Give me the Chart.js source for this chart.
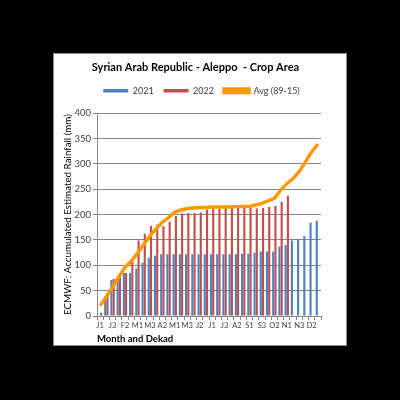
<!DOCTYPE html>
<html><head><meta charset="utf-8">
<script src="https://cdn.jsdelivr.net/npm/chart.js@4"></script>
<style>
html,body{margin:0;padding:0;background:#000;width:400px;height:400px;overflow:hidden}
#box{position:absolute;left:53px;top:53px;width:292px;height:291px;background:#fff;border:1px solid #898989}
canvas{display:block}
</style></head><body>
<div id="box"><canvas id="c" width="292" height="291"></canvas></div>
<script>
const categories = ["J1","J2","J3","F1","F2","F3","M1","M2","M3","A1","A2","A3","M1","M2","M3","J1","J2","J3","J1","J2","J3","A1","A2","A3","S1","S2","S3","O1","O2","O3","N1","N2","N3","D1","D2","D3"];
const rain2021 = [0,39,71,72,85,85,93,105,115,119,122,122,122,122,122,122,122,122,122,122,122,122,122,123,123,125,127,127,127,137,140,149,152,158,184,188];
const rain2022 = [6,45,73,85,85,108,149,162,178,180,177,186,197,202,203,203,204,210,212,212,213,213,213,214,214,212,213,215,217,225,237,null,null,null,null,null];
const avg8915 = [20,38,57,77,96,108,124,141,158,172,185,194,205,209,212,213,214,214,215,215,215,215,216,216,216,219,222,227,232,248,261,271,285,304,324,339];
const yTicks = [0,50,100,150,200,250,300,350,400];

const FONT = "Lato";
const tweak = {
  id:'tweak',
  beforeUpdate(chart){
    const lg = chart.legend;
    if (lg && !lg._patched){
      const f = lg.fit.bind(lg);
      lg.fit = function(){ f(); this.height += 8; };
      lg._patched = true;
    }
  },
  afterLayout(chart){
    const t = chart.titleBlock; if (t){ t.left += 6; t.right += 6; }
    const l = chart.legend; if (l){ l.left += 12; l.right += 12; }
  }
};
new Chart(document.getElementById('c'), {
  type: 'bar',
  data: {
    labels: categories,
    datasets: [
      {label:'2021', data: rain2021, backgroundColor:'#4F81BD', borderWidth:0, order:1, categoryPercentage:0.72, barPercentage:0.95},
      {label:'2022', data: rain2022, backgroundColor:'#C0504D', borderWidth:0, order:1, categoryPercentage:0.72, barPercentage:0.95},
      {type:'line', label:'Avg (89-15)', data: avg8915, borderColor:'#FF9900', backgroundColor:'#FF9900', borderWidth:3.5, pointRadius:0, tension:0, order:-1}
    ]
  },
  plugins:[tweak],
  options: {
    responsive:false, animation:false, devicePixelRatio:1,
    layout:{padding:{top:0,left:4,right:25,bottom:0}},
    plugins:{
      tooltip:{enabled:false},
      title:{display:true, text:'Syrian Arab Republic - Aleppo  - Crop Area', color:'#000',
        font:{family:FONT, size:11, weight:'bold'}, padding:{top:7,bottom:2}},
      legend:{display:true, labels:{boxWidth:25, boxHeight:3.5, color:'#404040', padding:10,
        font:{family:FONT, size:9}, sort:(a,b)=>a.datasetIndex-b.datasetIndex}}
    },
    scales:{
      x:{
        grid:{display:true, drawOnChartArea:false, drawTicks:true, tickLength:4, color:'#868686', offset:true},
        border:{color:'#868686'},
        ticks:{autoSkip:false, maxRotation:0, minRotation:0, padding:1, color:'#404040',
          font:{family:FONT, size:7.5},
          callback:function(v,i){ return i%2===0 ? categories[i] : ''; }},
        title:{display:true, text:'Month and Dekad', align:'start', color:'#000',
          font:{family:FONT, size:9.5, weight:'bold'}, padding:{top:0,bottom:0}},
        afterFit:function(s){ s.height = 29; }
      },
      y:{
        min:0, max:400,
        afterBuildTicks:function(s){ s.ticks = yTicks.map(v=>({value:v})); },
        grid:{color:'#868686', tickLength:4},
        border:{color:'#868686'},
        ticks:{color:'#404040', padding:2, font:{family:FONT, size:9.5}},
        title:{display:true, text:'ECMWF: Accumulated Estimated Rainfall (mm)', color:'#000',
          font:{family:FONT, size:9.8}, padding:{top:4,bottom:1}},
        afterFit:function(s){ s.width = 39; }
      }
    }
  }
});
</script></body></html>
